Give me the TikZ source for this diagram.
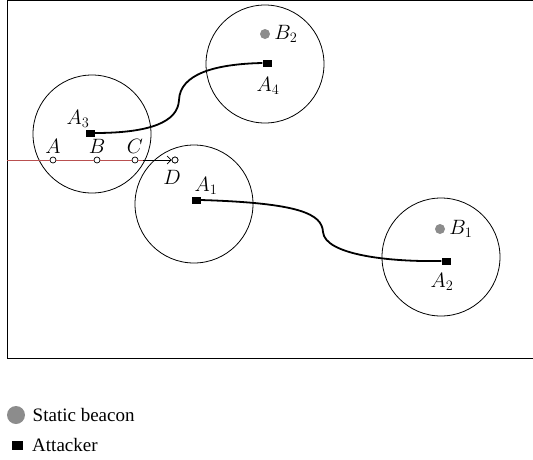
\documentclass[tikz,border=0pt]{standalone}
\usepackage{fontspec}
\setmainfont{Liberation Serif}
\usetikzlibrary{arrows.meta, positioning}
\definecolor{pathred}{RGB}{185,80,80}

\begin{document}
\begin{tikzpicture}[x=1pt, y=-1pt, font=\fontsize{19}{22}\selectfont]
    \tikzstyle{rangering} = [draw, circle, line width=0.8pt, minimum size=118pt, inner sep=0pt]
    \tikzstyle{attacker} = [fill=black, rectangle, minimum width=9pt, minimum height=7pt, inner sep=0pt]
    \tikzstyle{beacon} = [fill=black!45, circle, minimum size=10pt, inner sep=0pt]
    \tikzstyle{spot} = [draw, fill=white, circle, minimum size=6pt, inner sep=0pt, line width=0.7pt]
    \tikzstyle{track} = [line width=1.8pt]
    \tikzstyle{lbl} = [font=\fontsize{21}{24}\selectfont, inner sep=1pt]

    \useasboundingbox (0,0) rectangle (533,459);
    \draw[line width=1pt] (545,0.5) -- (7,0.5) -- (7,358.5) -- (545,358.5);

    % ranges
    \node[rangering] (r3) at (92,134) {};
    \node[rangering] (r1) at (194,204) {};
    \node[rangering] (r2) at (441,257) {};
    \node[rangering] (r4) at (265,64) {};

    % beacons
    \node[beacon] (b1) at (440,229) {};
    \node[lbl, right=3pt of b1] {$B_1$};
    \node[beacon] (b2) at (265,34) {};
    \node[lbl, right=3pt of b2] {$B_2$};

    % attackers
    \node[attacker] (a1) at (196,200) {};
    \node[attacker] (a2) at (446,261) {};
    \node[attacker] (a3) at (90,133) {};
    \node[attacker] (a4) at (267,63) {};
    \node[lbl] at (206,186) {$A_1$};
    \node[lbl] at (442,282) {$A_2$};
    \node[lbl] at (78,119) {$A_3$};
    \node[lbl] at (268,86) {$A_4$};

    % trajectories
    \draw[track] (a1.east) .. controls (300,203) and (322,214) .. (323,232)
        .. controls (325,255) and (390,262) .. (a2.west);
    \draw[track] (a3.east) .. controls (150,133) and (178,122) .. (179,100)
        .. controls (180,74) and (215,64) .. (a4.west);

    % measured positions
    \coordinate (start) at (7,160);
    \node[spot] (pa) at (53,160) {};
    \node[spot] (pb) at (97,160) {};
    \node[spot] (pc) at (135,160) {};
    \node[spot] (pd) at (175,160) {};
    \node[lbl, above=2pt of pa] {$A$};
    \node[lbl, above=2pt of pb] {$B$};
    \node[lbl, above=2pt of pc] {$C$};
    \node[lbl] at (172,177) {$D$};
    \draw[pathred, line width=0.7pt] (start) -- (pa) -- (pb) -- (pc) -- ++(8,0);
    \draw[line width=0.7pt, -{Straight Barb[length=4pt, width=8pt]}] (143,160) -- (pd.west);
    \node[spot] at (pd) {};

    % legend
    \node[beacon, minimum size=18pt] (lb) at (16,415) {};
    \node[right=4pt of lb] {Static beacon};
    \node[attacker, minimum width=11pt, minimum height=9pt] (la) at (17,445) {};
    \node[right=6pt of la] {Attacker};
\end{tikzpicture}
\end{document}
